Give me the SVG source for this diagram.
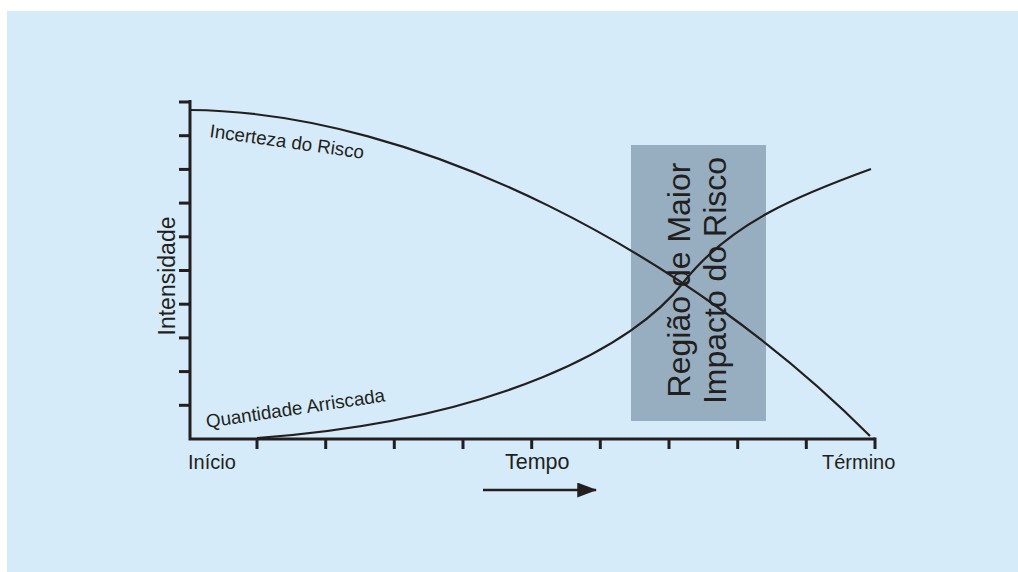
<svg xmlns="http://www.w3.org/2000/svg" width="1018" height="572" viewBox="0 0 1018 572">
  <style>
    .axis { stroke: #231f20; stroke-width: 3; fill: none; }
    .tick { stroke: #231f20; stroke-width: 3; }
    .curve { stroke: #231f20; stroke-width: 2.2; fill: none; }
    .lbl { font-family: "Liberation Sans", Arial, sans-serif; fill: #231f20; }
  </style>
  <defs>
    <marker id="arrowHead" markerWidth="8" markerHeight="6" refX="7.5" refY="3" orient="auto" markerUnits="strokeWidth">
      <path d="M0,0 L8,3 L0,6 Z" fill="#231f20"/>
    </marker>
  </defs>

  <rect x="7" y="11" width="1011" height="561" fill="#d6ebf9"/>

  <!-- risk impact region -->
  <g id="region">
    <rect x="631" y="145" width="135" height="276" fill="#97aec0"/>
    <text class="lbl" font-size="32" text-anchor="middle" transform="translate(690,280) rotate(-90)">Região de Maior</text>
    <text class="lbl" font-size="32" text-anchor="middle" transform="translate(726,280.5) rotate(-90)">Impacto do Risco</text>
  </g>

  <!-- axes -->
  <g id="axes">
    <path class="axis" d="M190,100 V439 H875"/>
    <g class="tick">
      <line x1="179" y1="102" x2="190" y2="102"/>
      <line x1="179" y1="135.7" x2="190" y2="135.7"/>
      <line x1="179" y1="169.4" x2="190" y2="169.4"/>
      <line x1="179" y1="203.1" x2="190" y2="203.1"/>
      <line x1="179" y1="236.8" x2="190" y2="236.8"/>
      <line x1="179" y1="270.5" x2="190" y2="270.5"/>
      <line x1="179" y1="304.2" x2="190" y2="304.2"/>
      <line x1="179" y1="337.9" x2="190" y2="337.9"/>
      <line x1="179" y1="371.6" x2="190" y2="371.6"/>
      <line x1="179" y1="405.3" x2="190" y2="405.3"/>
      <line x1="257" y1="439" x2="257" y2="449"/>
      <line x1="325.7" y1="439" x2="325.7" y2="449"/>
      <line x1="394.3" y1="439" x2="394.3" y2="449"/>
      <line x1="463" y1="439" x2="463" y2="449"/>
      <line x1="531.7" y1="439" x2="531.7" y2="449"/>
      <line x1="600.3" y1="439" x2="600.3" y2="449"/>
      <line x1="669" y1="439" x2="669" y2="449"/>
      <line x1="737.7" y1="439" x2="737.7" y2="449"/>
      <line x1="806.3" y1="439" x2="806.3" y2="449"/>
      <line x1="875" y1="437.5" x2="875" y2="449"/>
    </g>
    <text class="lbl" font-size="23" text-anchor="middle" transform="translate(175,276) rotate(-90)">Intensidade</text>
    <text class="lbl" font-size="20" x="188" y="469">Início</text>
    <text class="lbl" font-size="21.5" x="505" y="469">Tempo</text>
    <text class="lbl" font-size="20" x="822" y="469">Término</text>
  </g>

  <!-- curves and time arrow -->
  <g id="connectors">
    <path id="incerteza" class="curve" d="M190,110 C420,112 690,255 870,436"/>
    <path id="quantidade" class="curve" d="M257,438 C500,420 635,345 683,283 S805,193 871,169"/>
    <line x1="483" y1="490" x2="596" y2="490" stroke="#231f20" stroke-width="2.5" marker-end="url(#arrowHead)"/>
  </g>

  <g id="curve-labels">
    <text class="lbl" font-size="18.8" transform="translate(209,137) rotate(8)">Incerteza do Risco</text>
    <text class="lbl" font-size="18.8" transform="translate(207,428) rotate(-8.5)">Quantidade Arriscada</text>
  </g>
</svg>
